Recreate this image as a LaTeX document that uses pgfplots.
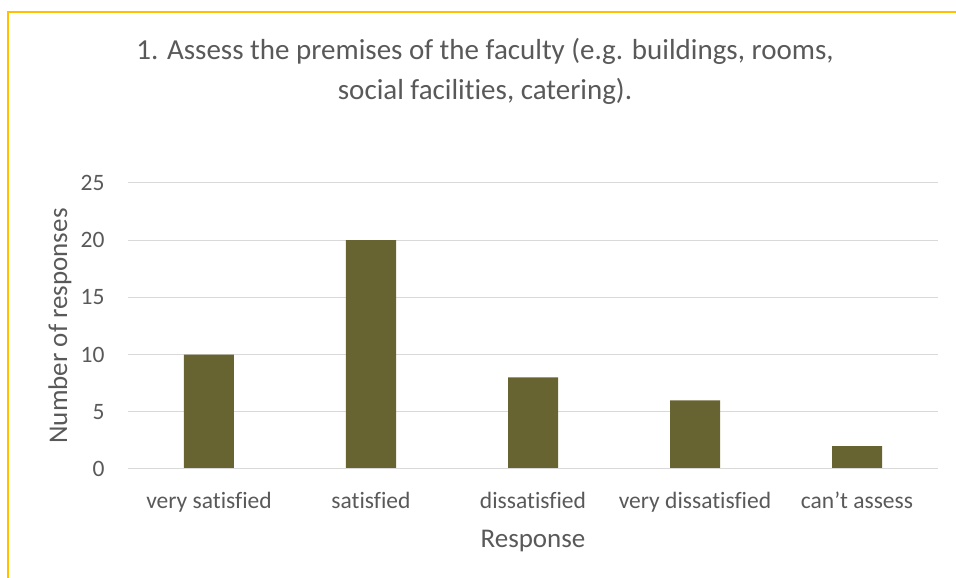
\documentclass[border=0pt]{standalone}
\usepackage{fontspec}
\setmainfont{Carlito}[RawFeature=-liga]
\usepackage{pgfplots}
\pgfplotsset{compat=1.18}
\definecolor{barolive}{HTML}{676432}
\definecolor{txtgray}{HTML}{595959}
\definecolor{gridgray}{HTML}{D9D9D9}
\definecolor{framegold}{HTML}{FFC000}
\begin{document}
\begin{tikzpicture}[x=1pt,y=1pt]
\path[use as bounding box] (-128,-109) rectangle (828,469);
\draw[framegold, line width=1.6pt] (-120,-109) -- (-120,457) -- (828,457);
\begin{axis}[
  scale only axis, width=810pt, height=286pt,
  at={(0,0)}, anchor=south west,
  ybar, bar width=50pt,
  xmin=-0.5, xmax=4.5, ymin=0, ymax=25,
  xtick=data,
  xticklabels={very satisfied,satisfied,dissatisfied,very dissatisfied,can’t assess},
  ytick={0,5,10,15,20,25},
  axis line style={draw=none},
  major tick length=0pt,
  ymajorgrids, grid style={gridgray, line width=1pt},
  tick label style={font=\fontsize{23.5}{28}\selectfont, text=txtgray},
  /pgf/number format/assume math mode=true,
  yticklabel style={xshift=-20pt},
  xticklabel style={yshift=-19pt, text height=17pt, text depth=5pt},
  ylabel={Number of responses},
  xlabel={Response},
  label style={font=\fontsize{27}{32}\selectfont, text=txtgray},
  ylabel style={at={(axis description cs:-0.084,0.5)}, anchor=center},
  xlabel style={at={(axis description cs:0.5,-0.2517)}, anchor=center},
]
\addplot[fill=barolive, draw=none] coordinates {(0,10) (1,20) (2,8) (3,6) (4,2)};
\draw[gridgray, line width=1pt] (axis cs:-0.5,0) -- (axis cs:4.5,0);
\end{axis}
\node[text=txtgray, font=\fontsize{29}{40}\selectfont, align=center] at (357,398)
  {1. Assess the premises of the faculty (e.g. buildings, rooms,\\social facilities, catering).};
\end{tikzpicture}
\end{document}
